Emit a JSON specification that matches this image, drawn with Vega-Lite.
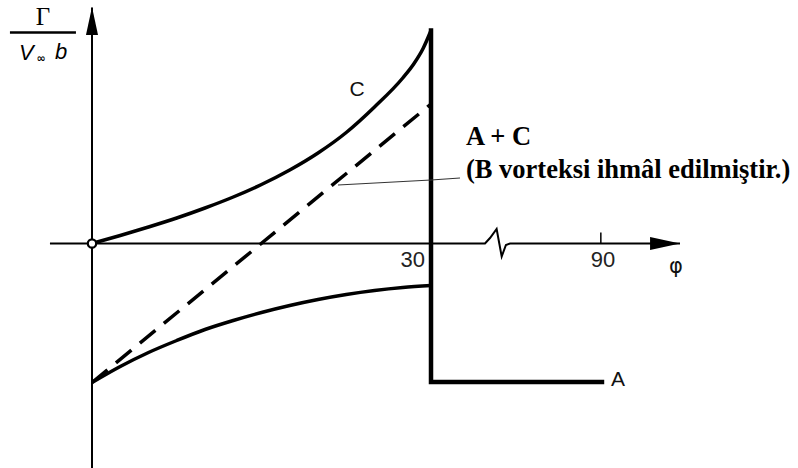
{
  "$schema": "https://vega.github.io/schema/vega-lite/v6.json",
  "width": 798,
  "height": 468,
  "padding": 0,
  "autosize": {"type": "none"},
  "background": "white",
  "config": {"view": {"stroke": null}},
  "datasets": {
    "phiAxis": [
      {"i": 0, "phi": -3.72, "g": 0},
      {"i": 1, "phi": 49.17, "g": 0},
      {"i": 2, "phi": 50.95, "g": 0.055},
      {"i": 3, "phi": 53.3, "g": 0.145},
      {"i": 4, "phi": 55.1, "g": -0.13},
      {"i": 5, "phi": 56.6, "g": -0.015},
      {"i": 6, "phi": 58.05, "g": 0},
      {"i": 7, "phi": 118.4, "g": 0}
    ],
    "gammaAxis": [
      {"phi": 0, "g": -2.245, "g2": 2.36}
    ],
    "tick90": [
      {"phi": 90.3, "g": 0, "g2": 0.11}
    ],
    "fractionBar": [
      {"phi": -7.26, "phi2": -1.42, "g": 2.11}
    ],
    "curves": [
      {"series": "C", "i": 0, "phi": 0, "g": 0},
      {"series": "C", "i": 1, "phi": 2.5, "g": 0.08},
      {"series": "C", "i": 2, "phi": 5, "g": 0.165},
      {"series": "C", "i": 3, "phi": 7.5, "g": 0.255},
      {"series": "C", "i": 4, "phi": 10, "g": 0.355},
      {"series": "C", "i": 5, "phi": 12.5, "g": 0.465},
      {"series": "C", "i": 6, "phi": 15, "g": 0.59},
      {"series": "C", "i": 7, "phi": 17.5, "g": 0.735},
      {"series": "C", "i": 8, "phi": 20, "g": 0.905},
      {"series": "C", "i": 9, "phi": 22.5, "g": 1.11},
      {"series": "C", "i": 10, "phi": 25, "g": 1.365},
      {"series": "C", "i": 11, "phi": 27.5, "g": 1.655},
      {"series": "C", "i": 12, "phi": 28.5, "g": 1.8},
      {"series": "C", "i": 13, "phi": 29.3, "g": 1.95},
      {"series": "C", "i": 14, "phi": 30, "g": 2.13},
      {"series": "A", "i": 0, "phi": 0, "g": -1.39},
      {"series": "A", "i": 1, "phi": 2.5, "g": -1.23},
      {"series": "A", "i": 2, "phi": 5, "g": -1.09},
      {"series": "A", "i": 3, "phi": 7.5, "g": -0.97},
      {"series": "A", "i": 4, "phi": 10, "g": -0.86},
      {"series": "A", "i": 5, "phi": 12.5, "g": -0.77},
      {"series": "A", "i": 6, "phi": 15, "g": -0.69},
      {"series": "A", "i": 7, "phi": 17.5, "g": -0.62},
      {"series": "A", "i": 8, "phi": 20, "g": -0.56},
      {"series": "A", "i": 9, "phi": 22.5, "g": -0.51},
      {"series": "A", "i": 10, "phi": 25, "g": -0.47},
      {"series": "A", "i": 11, "phi": 27.5, "g": -0.44},
      {"series": "A", "i": 12, "phi": 30, "g": -0.42}
    ],
    "stepA": [
      {"i": 0, "phi": 30, "g": 2.13},
      {"i": 1, "phi": 30, "g": -1.385},
      {"i": 2, "phi": 90.7, "g": -1.385}
    ],
    "sumAC": [
      {"i": 0, "phi": 0, "g": -1.39},
      {"i": 1, "phi": 30, "g": 1.395}
    ],
    "leader": [
      {"i": 0, "phi": 21.77, "g": 0.585},
      {"i": 1, "phi": 30, "g": 0.635},
      {"i": 2, "phi": 40.3, "g": 0.655}
    ],
    "tickLabels": [
      {"phi": 29.47, "g": -0.23, "text": "30"},
      {"phi": 95.4, "g": -0.23, "text": "90"}
    ],
    "curveLabels": [
      {"phi": 23.45, "g": 1.54, "text": "C"},
      {"phi": 96.4, "g": -1.365, "text": "A"}
    ],
    "phiLabel": [
      {"phi": 117, "g": -0.235, "text": "φ"}
    ],
    "note": [
      {"phi": 42.4, "g": 0.985, "text": "A + C"},
      {"phi": 42.4, "g": 0.655, "text": "(B vorteksi ihmâl edilmiştir.)"}
    ],
    "gammaTitle": [
      {"phi": -4.34, "g": 2.185, "text": "Γ"}
    ],
    "vTitle": [
      {"phi": -6.45, "g": 1.835, "text": "V"},
      {"phi": -3.27, "g": 1.845, "text": "b"}
    ],
    "infTitle": [
      {"phi": -4.5, "g": 1.85, "text": "∞"}
    ],
    "origin": [
      {"phi": 0, "g": 0}
    ],
    "arrowUp": [
      {"phi": 0, "g": 2.225}
    ],
    "arrowRight": [
      {"phi": 113.1, "g": 0}
    ]
  },
  "encoding": {
    "x": {
      "field": "phi",
      "type": "quantitative",
      "axis": null,
      "scale": {"domain": [-8.14, 0, 30, 160.3], "range": [0, 92, 431, 798], "nice": false, "zero": false}
    },
    "y": {
      "field": "g",
      "type": "quantitative",
      "axis": null,
      "scale": {"domain": [-2.245, 2.435], "nice": false, "zero": false}
    }
  },
  "layer": [
    {
      "data": {"name": "phiAxis"},
      "mark": {"type": "line", "color": "black", "strokeWidth": 2},
      "encoding": {"order": {"field": "i", "type": "quantitative"}}
    },
    {
      "data": {"name": "gammaAxis"},
      "mark": {"type": "rule", "color": "black", "strokeWidth": 2},
      "encoding": {"y2": {"field": "g2"}}
    },
    {
      "data": {"name": "tick90"},
      "mark": {"type": "rule", "color": "black", "strokeWidth": 1.5},
      "encoding": {"y2": {"field": "g2"}}
    },
    {
      "data": {"name": "fractionBar"},
      "mark": {"type": "rule", "color": "black", "strokeWidth": 2.5},
      "encoding": {"x2": {"field": "phi2"}}
    },
    {
      "data": {"name": "sumAC"},
      "mark": {"type": "line", "color": "black", "strokeWidth": 3.5, "strokeDash": [20, 11]},
      "encoding": {"order": {"field": "i", "type": "quantitative"}}
    },
    {
      "data": {"name": "curves"},
      "mark": {"type": "line", "color": "black", "strokeWidth": 3.5, "interpolate": "monotone"},
      "encoding": {
        "detail": {"field": "series"},
        "order": {"field": "i", "type": "quantitative"}
      }
    },
    {
      "data": {"name": "stepA"},
      "mark": {"type": "line", "color": "black", "strokeWidth": 4.5, "strokeJoin": "miter", "strokeCap": "square"},
      "encoding": {"order": {"field": "i", "type": "quantitative"}}
    },
    {
      "data": {"name": "leader"},
      "mark": {"type": "line", "color": "#333", "strokeWidth": 1.2},
      "encoding": {"order": {"field": "i", "type": "quantitative"}}
    },
    {
      "data": {"name": "origin"},
      "mark": {"type": "point", "shape": "circle", "size": 70, "filled": true, "fill": "white", "stroke": "black", "strokeWidth": 2.2, "opacity": 1},
      "encoding": {}
    },
    {
      "data": {"name": "arrowUp"},
      "mark": {"type": "point", "shape": "M0,-1L0.43,1L-0.43,1Z", "size": 784, "filled": true, "color": "black", "opacity": 1},
      "encoding": {}
    },
    {
      "data": {"name": "arrowRight"},
      "mark": {"type": "point", "shape": "M1,0L-1,-0.43L-1,0.43Z", "size": 900, "filled": true, "color": "black", "opacity": 1},
      "encoding": {}
    },
    {
      "data": {"name": "tickLabels"},
      "mark": {"type": "text", "font": "Liberation Sans", "fontSize": 22, "align": "right", "baseline": "alphabetic", "color": "#222"},
      "encoding": {"text": {"field": "text"}}
    },
    {
      "data": {"name": "curveLabels"},
      "mark": {"type": "text", "font": "Liberation Sans", "fontSize": 21, "align": "center", "baseline": "middle", "color": "#111"},
      "encoding": {"text": {"field": "text"}}
    },
    {
      "data": {"name": "phiLabel"},
      "mark": {"type": "text", "font": "DejaVu Sans", "fontSize": 21, "align": "center", "baseline": "middle", "color": "#111"},
      "encoding": {"text": {"field": "text"}}
    },
    {
      "data": {"name": "note"},
      "mark": {"type": "text", "font": "Liberation Serif", "fontSize": 26.5, "fontWeight": "bold", "align": "left", "baseline": "alphabetic", "color": "black"},
      "encoding": {"text": {"field": "text"}}
    },
    {
      "data": {"name": "gammaTitle"},
      "mark": {"type": "text", "font": "Liberation Serif", "fontSize": 25, "align": "center", "baseline": "alphabetic", "color": "black"},
      "encoding": {"text": {"field": "text"}}
    },
    {
      "data": {"name": "vTitle"},
      "mark": {"type": "text", "font": "Liberation Sans", "fontSize": 22, "fontStyle": "italic", "align": "left", "baseline": "alphabetic", "color": "black"},
      "encoding": {"text": {"field": "text"}}
    },
    {
      "data": {"name": "infTitle"},
      "mark": {"type": "text", "font": "DejaVu Sans", "fontSize": 11, "fontWeight": "bold", "align": "center", "baseline": "middle", "color": "black"},
      "encoding": {"text": {"field": "text"}}
    }
  ]
}
